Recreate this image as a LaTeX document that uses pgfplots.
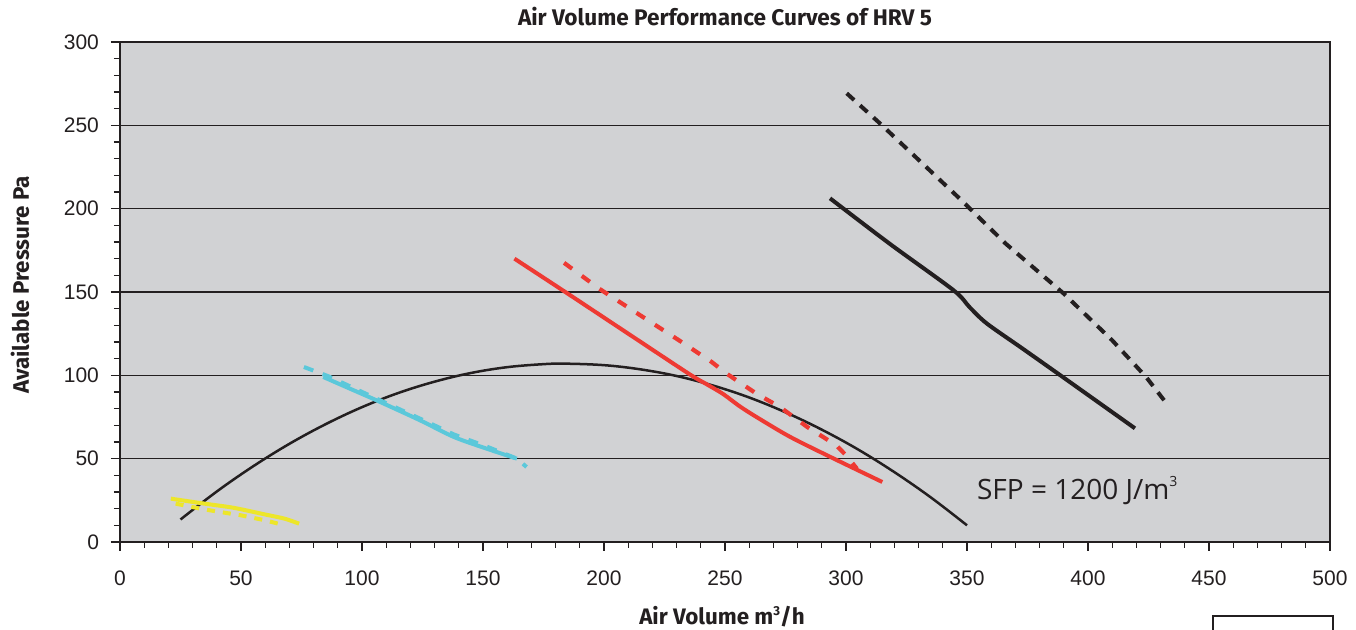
\documentclass[border=0pt]{standalone}
\usepackage{fontspec}
\setmainfont{Fira Sans}
\newfontfamily\arialf{Liberation Sans}
\newfontfamily\opensans{Open Sans}
\usepackage{pgfplots}
\pgfplotsset{compat=1.18}
\definecolor{bggrey}{HTML}{D1D2D4}
\definecolor{hyellow}{HTML}{EDE62A}
\definecolor{hcyan}{HTML}{5BC8DA}
\definecolor{hred}{HTML}{EE3A33}
\definecolor{hblack}{HTML}{231F20}
\begin{document}
\begin{tikzpicture}
\begin{axis}[
  at={(0,0)}, anchor=south west,
  scale only axis, width=605pt, height=250pt,
  xmin=0, xmax=500, ymin=0, ymax=300,
  xtick={0,50,...,500}, ytick={0,50,...,300},
  minor x tick num=4, minor y tick num=4,
  tick align=outside, major tick length=4.5pt, minor tick length=3pt,
  tick style={hblack, line width=0.6pt},
  xtick pos=bottom, ytick pos=left,
  xticklabel shift=6.5pt, yticklabel shift=2.5pt,
  ymajorgrids, grid style={hblack, line width=0.7pt},
  axis background/.style={fill=bggrey},
  axis line style={hblack, line width=1pt},
  /pgf/number format/assume math mode=true,
  tick label style={font=\arialf\fontsize{10.5}{12}\selectfont, text=hblack},
  scaled ticks=false,
]
% SFP curve
\addplot[hblack, line width=1.25pt, smooth, tension=0.6] coordinates {
(25,13.5) (40,30.3) (55,45.4) (70,58.9) (85,70.7) (100,80.9) (115,89.4) (130,96.2) (145,101.4) (160,104.9) (175,106.7) (184,107) (200,106.1) (215,103.6) (230,99.6) (245,93.9) (260,86.7) (275,77.8) (290,67.4) (305,55.5) (320,41.9) (335,26.8) (350,10)};
% yellow
\addplot[hyellow, line width=2pt, dash pattern=on 4pt off 4pt] coordinates {
(23,23) (35,19.5) (50,16) (60,13) (68,10)};
\addplot[hyellow, line width=2pt, smooth] coordinates {
(21,26) (35,23) (47,20.5) (60,16.5) (68,14) (74,11)};
% cyan
\addplot[hcyan, line width=2pt, dash pattern=on 5pt off 5pt] coordinates {
(76,105) (86,99.5) (106,86) (124,74) (138,64.5) (152,57) (164,50) (168,45)};
\addplot[hcyan, line width=2pt, smooth] coordinates {
(84,99) (95,92) (106,85) (124,73) (138,63) (151.5,56) (164,50)};
% red
\addplot[hred, line width=2.1pt, dash pattern=on 5pt off 6pt] coordinates {
(183.5,167.5) (198,152) (215,136) (231,121) (244.5,108) (250.7,101) (263,89) (272.7,81) (284,69) (296,58) (300,52) (304.5,44)};
\addplot[hred, line width=2pt, smooth] coordinates {
(163,170) (184,150) (210,125) (235,101) (242,95) (249,89) (256,81.5) (263,75) (277,63) (295,50) (315,36)};
% black right
\addplot[hblack, line width=2pt, dash pattern=on 5pt off 4pt] coordinates {
(300.3,269.2) (314,251.2) (347,206) (366,179) (390,149) (410,121) (424,99) (432,84)};
\addplot[hblack, line width=2pt, smooth] coordinates {
(293.4,206.2) (318,179) (344.3,151.2) (351,141) (358.1,131.2) (373,116) (388.4,100.2) (419.4,68.2)};
\node[anchor=base west, inner sep=0pt, font=\opensans\fontsize{14}{16}\selectfont, text=hblack] at (axis cs:354,25.2) {SFP = 1200 J/m\raisebox{0.9ex}{\fontsize{7}{8}\selectfont 3}};
\end{axis}
\node[font=\bfseries\fontsize{11.3}{13}\selectfont, text=hblack] at (302.5pt,262.5pt) {Air Volume Performance Curves of HRV 5};
\node[font=\bfseries\fontsize{11.2}{13}\selectfont, text=hblack] at (301pt,-37.5pt) {Air Volume m\raisebox{0.8ex}{\fontsize{6.5}{7}\selectfont 3}/h};
\node[font=\bfseries\fontsize{11.2}{13}\selectfont, text=hblack, rotate=90] at (-50pt,128.5pt) {Available Pressure Pa};
\draw[hblack, line width=0.6pt] (546.5pt,-50pt) -- (546.5pt,-37pt) -- (606.5pt,-37pt) -- (606.5pt,-50pt);
\pgfresetboundingbox
\path[use as bounding box] (-60pt,-44pt) rectangle (618pt,271pt);
\end{tikzpicture}
\end{document}
